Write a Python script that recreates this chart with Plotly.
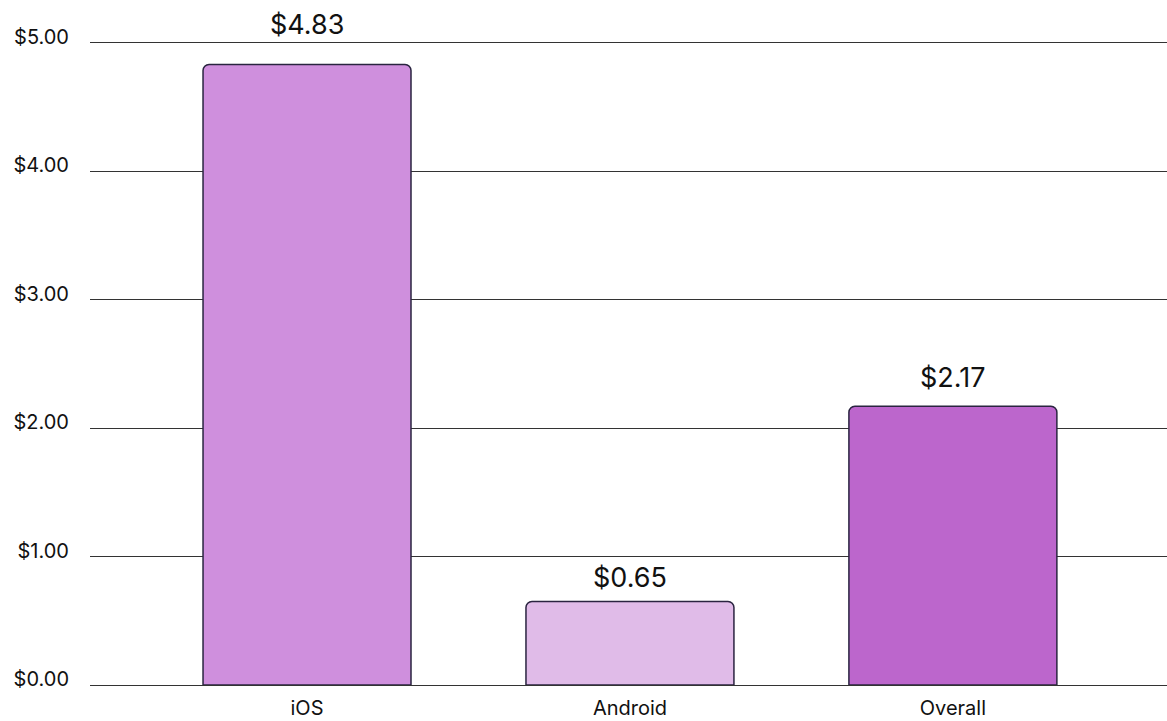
import plotly.graph_objects as go

categories = ["iOS", "Android", "Overall"]
values = [4.83, 0.65, 2.17]
bar_colors = ["#CF8FDD", "#E0BBE8", "#BC66CC"]
tick_vals = [0, 1, 2, 3, 4, 5]
tick_text = ["$0.00", "$1.00", "$2.00", "$3.00", "$4.00", "$5.00"]

FONT = "Inter, Lato, sans-serif"
label_shifts = [21, 5, 10]  # pixel offsets of value labels above bars

fig = go.Figure(
    go.Bar(
        x=categories,
        y=values,
        width=0.644,
        marker=dict(color=bar_colors, line=dict(color="#2a2440", width=1.5)),
        hoverinfo="skip",
    )
)

for c, v, s in zip(categories, values, label_shifts):
    fig.add_annotation(
        x=c, y=v, text=f"${v:.2f}", showarrow=False,
        yanchor="bottom", yshift=s,
        font=dict(family=FONT, size=27, color="#111111"),
    )

fig.update_layout(
    width=1167, height=721,
    margin=dict(l=90, r=0, t=40, b=36),
    paper_bgcolor="white", plot_bgcolor="white",
    barcornerradius=6,
    showlegend=False,
    font=dict(family=FONT, color="#111111"),
    xaxis=dict(
        range=[-0.672, 2.663], showgrid=False, showline=False, ticks="",
        tickfont=dict(size=20, family=FONT, color="#111111"),
        ticklabelstandoff=9,
    ),
    yaxis=dict(
        range=[0, 5.02], tickvals=tick_vals, ticktext=tick_text,
        showgrid=True, gridcolor="#333333", gridwidth=1,
        zeroline=True, zerolinecolor="#333333", zerolinewidth=1,
        showline=False, ticks="",
        tickfont=dict(size=20, family=FONT, color="#111111"),
        ticklabelstandoff=20, ticklabelshift=-6,
    ),
)

fig.write_html(
    "out.html",
    config={"displayModeBar": False},
    post_script="document.body.style.margin='0';document.body.style.overflow='hidden';",
)
